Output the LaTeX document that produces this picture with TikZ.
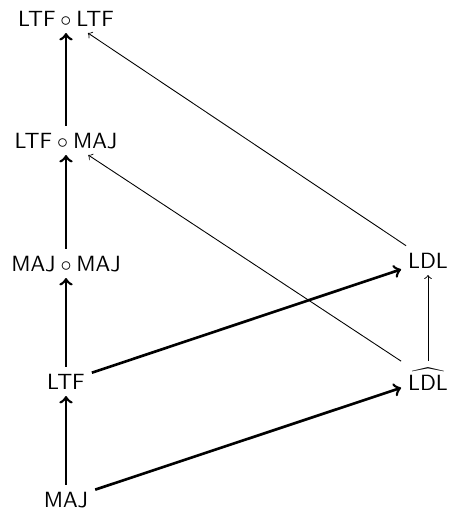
\documentclass[tikz,border=0pt]{standalone}
\usepackage{amsmath}
\begin{document}
\begin{tikzpicture}[x=0.4545pt,y=-0.4545pt,
  lab/.style={anchor=base,inner sep=3pt},
  thick arr/.style={->,line width=1.2pt},
  thin arr/.style={->,line width=0.4pt}]
\useasboundingbox (0,0) rectangle (452,513);
\node[lab] (top) at (66,26) {$\mathsf{LTF}\circ\mathsf{LTF}$};
\node[lab] (tm) at (66,148) {$\mathsf{LTF}\circ\mathsf{MAJ}$};
\node[lab] (mm) at (66,271) {$\mathsf{MAJ}\circ\mathsf{MAJ}$};
\node[lab] (ltf) at (66,389) {$\mathsf{LTF}$};
\node[lab] (maj) at (66,507) {$\mathsf{MAJ}$};
\node[lab] (ldl) at (428,268) {$\mathsf{LDL}$};
\node[lab] (hldl) at (428,390) {$\widehat{\mathsf{LDL}}$};
\draw[thick arr] (maj) -- (ltf);
\draw[thick arr] (ltf) -- (mm);
\draw[thick arr] (mm) -- (tm);
\draw[thick arr] (tm) -- (top);
\draw[thick arr] (maj) -- (hldl);
\draw[thick arr] (ltf) -- (ldl);
\draw[thin arr] (hldl) -- (ldl);
\draw[thin arr] (hldl) -- (tm);
\draw[thin arr] (ldl) -- (top);
\end{tikzpicture}
\end{document}
